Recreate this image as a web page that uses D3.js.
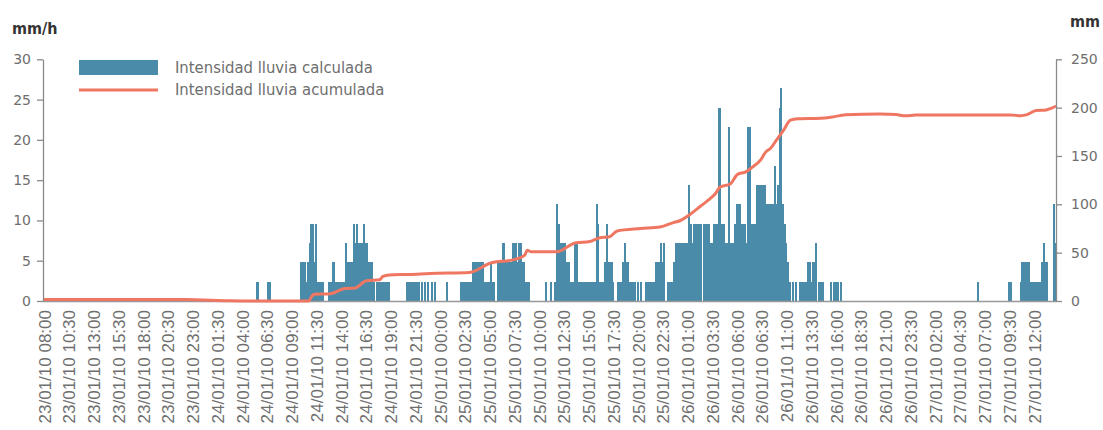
<!DOCTYPE html>
<html><head><meta charset="utf-8">
<script src="https://cdn.jsdelivr.net/npm/d3@7"></script>
<style>
body{margin:0;background:#fff}
svg text{font-family:"DejaVu Sans",sans-serif}
</style>
</head><body>
<svg id="chart" width="1103" height="430"></svg>
<script>
// ---------------- data ----------------
const timeStart = "23/01/10 08:00";
const timeEnd   = "27/01/10 14:20";
const binMinutes = 10;

const tickLabels = [
"23/01/10 08:00","23/01/10 10:30","23/01/10 13:00","23/01/10 15:30","23/01/10 18:00","23/01/10 20:30","23/01/10 23:00",
"24/01/10 01:30","24/01/10 04:00","24/01/10 06:30","24/01/10 09:00","24/01/10 11:30","24/01/10 14:00","24/01/10 16:30","24/01/10 19:00","24/01/10 21:30",
"25/01/10 00:00","25/01/10 02:30","25/01/10 05:00","25/01/10 07:30","25/01/10 10:00","25/01/10 12:30","25/01/10 15:00","25/01/10 17:30","25/01/10 20:00","25/01/10 22:30",
"26/01/10 01:00","26/01/10 03:30","26/01/10 06:00","26/01/10 06:30","26/01/10 11:00","26/01/10 13:30","26/01/10 16:00","26/01/10 18:30","26/01/10 21:00","26/01/10 23:30",
"27/01/10 02:00","27/01/10 04:30","27/01/10 07:00","27/01/10 09:30","27/01/10 12:00"];
const firstTick = "23/01/10 08:00";
const lastTick  = "27/01/10 12:00";

const leftTicks  = [0,5,10,15,20,25,30];
const rightTicks = [0,50,100,150,200,250];

// rain intensity (mm/h), 10-minute values for each rainy episode
const episodeStart = ["24/01/10 05:30","24/01/10 10:00","25/01/10 10:40","27/01/10 06:20","27/01/10 09:30"];
const rainEp1 = [2.4,2.4,0,0,0,0,0,2.4,2.4];
const rainEp2 = [
4.8,4.8,4.8,2.4,4.8,7.2,9.6,9.6,4.8,9.6,
2.4,2.4,2.4,2.4,0,0,0,2.4,2.4,4.8,
4.8,2.4,2.4,2.4,2.4,2.4,2.4,7.2,4.8,4.8,
4.8,4.8,9.6,7.2,9.6,7.2,7.2,7.2,9.6,7.2,
7.2,4.8,4.8,4.8,2.4,0,2.4,2.4,2.4,2.4,
2.4,2.4,2.4,2.4,0,0,0,0,0,0,
0,0,0,0,2.4,2.4,2.4,2.4,2.4,2.4,
2.4,2.4,0,2.4,0,2.4,0,2.4,0,2.4,
0,2.4,0,0,0,0,0,0,2.4,0,
0,0,0,0,0,0,0,2.4,2.4,2.4,
2.4,2.4,2.4,2.4,4.8,4.8,4.8,4.8,4.8,4.8,
4.8,2.4,2.4,2.4,2.4,4.8,2.4,2.4,0,4.8,
4.8,4.8,7.2,7.2,4.8,4.8,4.8,4.8,7.2,7.2,
7.2,4.8,7.2,7.2,4.8,4.8,2.4,2.4,2.4];
const rainEp3 = [
2.4,0,0,2.4,0,0,2.4,12,9.6,7.2,
7.2,7.2,7.2,4.8,4.8,2.4,2.4,2.4,7.2,7.2,
2.4,2.4,2.4,2.4,2.4,2.4,2.4,2.4,2.4,2.4,
2.4,12,9.6,2.4,2.4,2.4,4.8,9.6,4.8,4.8,
4.8,2.4,0,0,2.4,2.4,2.4,4.8,7.2,4.8,
4.8,2.4,2.4,2.4,2.4,0,2.4,0,2.4,0,
0,2.4,2.4,2.4,2.4,2.4,2.4,4.8,4.8,4.8,
7.2,4.8,7.2,0,2.4,2.4,2.4,2.4,4.8,7.2,
7.2,7.2,7.2,7.2,7.2,7.2,7.2,14.4,9.6,7.2,
9.6,9.6,9.6,9.6,9.6,0,9.6,9.6,9.6,9.6,
7.2,7.2,9.6,9.6,9.6,24,24,9.6,9.6,7.2,
7.2,21.6,7.2,7.2,7.2,9.6,12,12,12,9.6,
9.6,9.6,7.2,21.6,21.6,9.6,9.6,9.6,14.4,14.4,
14.4,14.4,14.4,14.4,12,12,12,12,12,16.8,
12,14.4,24,26.4,12,9.6,7.2,4.8,2.4,0,
2.4,0,2.4,0,2.4,2.4,2.4,2.4,2.4,4.8,
4.8,2.4,4.8,4.8,7.2,0,2.4,2.4,2.4,0,
0,0,0,2.4,0,2.4,2.4,2.4,0,2.4];
const rainEp4 = [2.4];
const rainEp5 = [2.4,2.4,0,0,0,0,0,2.4,4.8,4.8,4.8,4.8,4.8,2.4,2.4,2.4,2.4,2.4,2.4,2.4,4.8,7.2,4.8,4.8,0,0,0,12,7.2];
const rainEpisodes = [rainEp1, rainEp2, rainEp3, rainEp4, rainEp5];

// accumulated rainfall (mm)
const accumTimes = [
"23/01/10 08:00","23/01/10 22:20","24/01/10 02:50","24/01/10 05:50","24/01/10 10:50","24/01/10 11:10","24/01/10 11:25",
"24/01/10 13:00","24/01/10 14:30","24/01/10 15:30","24/01/10 16:40","24/01/10 18:00","24/01/10 18:20","24/01/10 19:00",
"24/01/10 21:00","24/01/10 23:05","25/01/10 03:05","25/01/10 05:10","25/01/10 07:40","25/01/10 08:40","25/01/10 08:55",
"25/01/10 09:20","25/01/10 11:55","25/01/10 13:45","25/01/10 15:15","25/01/10 16:15","25/01/10 17:15","25/01/10 18:00",
"25/01/10 20:20","25/01/10 22:20","25/01/10 23:40","26/01/10 00:20","26/01/10 01:25","26/01/10 02:25","26/01/10 03:10",
"26/01/10 03:55","26/01/10 04:25","26/01/10 05:25","26/01/10 06:10","26/01/10 07:00","26/01/10 07:40","26/01/10 08:30",
"26/01/10 09:00","26/01/10 09:30","26/01/10 10:00","26/01/10 10:50","26/01/10 11:30","26/01/10 12:15","26/01/10 14:35",
"26/01/10 15:35","26/01/10 17:05","26/01/10 20:35","26/01/10 22:10","26/01/10 23:10","27/01/10 00:10","27/01/10 09:45",
"27/01/10 10:45","27/01/10 11:20","27/01/10 12:20","27/01/10 13:20","27/01/10 13:50","27/01/10 14:20"];
const accumValues = [
1.5,1.5,0.3,0,0,5,7,
7.5,13,13.5,21,22,25.5,27,
27.5,28.5,29.5,39,43,47.5,52.5,
51,51,60,61.5,65.5,66.5,72.5,
75,76.5,81,83,90,98,104,
111,118,121,131,133.5,138.5,146,
154,158,165,177,187,188.5,189,
190,192.7,193.4,192.8,191.5,192.3,192.3,
191.7,192.5,197,197.6,199.3,201.7];

const seriesNames = ["Intensidad lluvia calculada","Intensidad lluvia acumulada"];

// ---------------- drawing ----------------
(function draw() {
const barColor = "#4a8ba9", lineColor = "#ef7762";
const axisColor = "#8a8a8a", textColor = "#6e6e6e";
const svg = d3.select("#chart");
const parse = d3.utcParse("%d/%m/%y %H:%M");

const mLeft = 43, mRight = 1056, mTop = 59.3, mBottom = 301;
const x = d3.scaleUtc().domain([parse(timeStart), parse(timeEnd)]).range([mLeft, mRight]);
const yL = d3.scaleLinear().domain([0, 30]).range([mBottom, mTop]);
const yR = d3.scaleLinear().domain([0, 250]).range([mBottom, mTop]);

// bars
const bars = [];
rainEpisodes.forEach((ep, i) => {
  const t0 = parse(episodeStart[i]);
  ep.forEach((v, j) => {
    if (v > 0) bars.push({t: d3.utcMinute.offset(t0, j * binMinutes), v});
  });
});
const bx0 = d => Math.round(x(d.t));
const bx1 = d => Math.round(x(d3.utcMinute.offset(d.t, binMinutes)));
svg.append("g").attr("shape-rendering", "crispEdges")
  .selectAll("rect").data(bars).join("rect")
  .attr("x", bx0)
  .attr("width", d => Math.max(2, bx1(d) - bx0(d)))
  .attr("y", d => yL(d.v))
  .attr("height", d => yL(0) - yL(d.v))
  .attr("fill", barColor);

// bottom axis line
svg.append("line").attr("x1", mLeft).attr("x2", mRight).attr("y1", mBottom + 0.5).attr("y2", mBottom + 0.5)
  .attr("stroke", "#999").attr("stroke-width", 1.5);

// accumulated line
const accum = accumTimes.map((t, i) => ({t: parse(t), v: accumValues[i]}));
svg.append("path").datum(accum)
  .attr("fill", "none").attr("stroke", lineColor).attr("stroke-width", 3)
  .attr("stroke-linejoin", "round")
  .attr("d", d3.line().x(d => x(d.t)).y(d => yR(d.v)).curve(d3.curveMonotoneX));

// left axis
const gL = svg.append("g").attr("transform", `translate(${mLeft},0)`)
  .call(d3.axisLeft(yL).tickValues(leftTicks).tickSize(6).tickSizeOuter(0).tickPadding(6));
// right axis
const gR = svg.append("g").attr("transform", `translate(${mRight},0)`)
  .call(d3.axisRight(yR).tickValues(rightTicks).tickSize(6).tickSizeOuter(0).tickPadding(9));
[gL, gR].forEach(g => {
  g.select(".domain").attr("stroke", axisColor).attr("stroke-width", 1.3);
  g.selectAll(".tick line").attr("stroke", axisColor).attr("stroke-width", 1.3);
  g.selectAll(".tick text").attr("fill", textColor).style("font-size", "14px")
    .style("font-family", "'DejaVu Sans',sans-serif");
});

// bottom tick labels (category labels at 2.5 h steps)
const xl = d3.scalePoint().domain(tickLabels).range([x(parse(firstTick)), x(parse(lastTick))]);
const gB = svg.append("g").attr("transform", `translate(0,${mBottom})`)
  .call(d3.axisBottom(xl).tickSize(0));
gB.select(".domain").remove();
gB.selectAll(".tick text")
  .attr("transform", "rotate(-90)")
  .attr("text-anchor", "end")
  .attr("x", -9).attr("y", 0).attr("dy", "0.42em")
  .attr("fill", textColor)
  .style("font-size", "17px")
  .style("font-family", "'Liberation Sans',Arial,sans-serif");

// unit titles
svg.append("text").attr("x", 12).attr("y", 34).text("mm/h")
  .attr("fill", "#333").style("font-weight", "bold").style("font-size", "16px")
  .style("font-family", "'DejaVu Sans Condensed','DejaVu Sans',sans-serif").style("font-stretch", "condensed");
svg.append("text").attr("x", 1100).attr("y", 27).attr("text-anchor", "end").text("mm")
  .attr("fill", "#333").style("font-weight", "bold").style("font-size", "16px")
  .style("font-family", "'DejaVu Sans Condensed','DejaVu Sans',sans-serif").style("font-stretch", "condensed");

// legend
const lg = svg.append("g");
lg.append("rect").attr("x", 79).attr("y", 60).attr("width", 79).attr("height", 15).attr("fill", barColor);
lg.append("line").attr("x1", 79).attr("x2", 158).attr("y1", 90).attr("y2", 90)
  .attr("stroke", lineColor).attr("stroke-width", 3);
lg.selectAll("text.leg").data(seriesNames).join("text").attr("class", "leg")
  .attr("x", 175).attr("y", (d, i) => 72.5 + i * 22)
  .text(d => d).attr("fill", textColor).style("font-size", "16.5px")
  .style("font-family", "'DejaVu Sans Condensed','DejaVu Sans',sans-serif").style("font-stretch", "condensed");
})();
</script>
</body></html>
